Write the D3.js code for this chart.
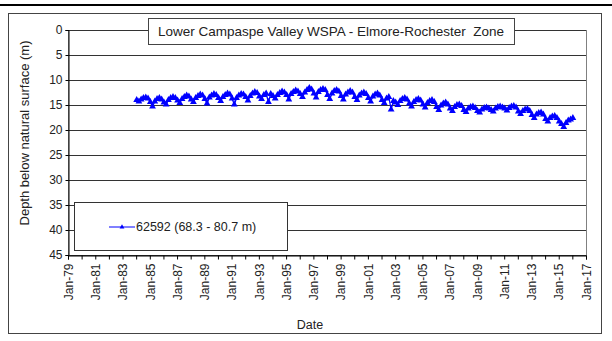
<!DOCTYPE html>
<html>
<head>
<meta charset="utf-8">
<script src="https://cdn.jsdelivr.net/npm/d3@7"></script>
<style>
  body { margin: 0; background: #fff; }
  svg { display: block; font-family: "Liberation Sans", Arial, sans-serif; }
</style>
</head>
<body>
<svg id="chart" width="612" height="341"></svg>
<script>
// Bore 62592, depth to water (m below natural surface), sampled every two months
const years = d3.range(1984, 2017);
const sampleMonths = [0, 2, 4, 6, 8, 10];   // Jan, Mar, May, Jul, Sep, Nov
const depthByYear = [
    [14.0, 14.3, 13.9, 13.6, 13.5, 13.7],
    [14.4, 15.3, 14.3, 13.8, 13.6, 13.9],
    [14.5, 14.9, 14.0, 13.6, 13.4, 13.6],
    [14.1, 14.6, 13.8, 13.4, 13.1, 13.3],
    [13.9, 14.4, 13.6, 13.2, 12.9, 13.1],
    [13.8, 14.7, 13.5, 13.1, 12.8, 13.0],
    [13.6, 14.2, 13.4, 13.0, 12.7, 12.9],
    [13.7, 14.9, 13.6, 13.1, 12.8, 12.9],
    [13.4, 14.1, 13.2, 12.7, 12.4, 12.6],
    [13.3, 13.8, 13.0, 12.7, 14.4, 12.8],
    [13.2, 13.7, 13.0, 12.6, 12.3, 12.5],
    [13.0, 13.9, 12.8, 12.4, 12.1, 12.3],
    [12.8, 13.4, 12.5, 12.0, 11.6, 11.9],
    [12.7, 13.5, 12.4, 12.0, 11.8, 12.0],
    [13.0, 13.8, 12.7, 12.2, 12.0, 12.3],
    [13.2, 13.9, 12.9, 12.5, 12.2, 12.5],
    [13.4, 14.0, 13.1, 12.7, 12.5, 12.8],
    [13.6, 14.3, 13.3, 12.9, 12.7, 13.1],
    [14.0, 14.6, 13.7, 13.4, 15.9, 14.2],
    [14.5, 15.0, 14.2, 13.8, 13.6, 13.9],
    [14.7, 15.3, 14.4, 14.0, 13.8, 14.1],
    [14.9, 15.5, 14.6, 14.2, 14.0, 14.4],
    [15.4, 16.0, 15.1, 14.7, 14.5, 14.9],
    [15.7, 16.2, 15.4, 15.0, 14.9, 15.2],
    [16.0, 16.4, 15.7, 15.4, 15.3, 15.6],
    [16.2, 16.5, 15.9, 15.6, 15.5, 15.7],
    [16.0, 16.3, 15.7, 15.4, 15.3, 15.5],
    [15.7, 16.1, 15.6, 15.3, 15.2, 15.5],
    [16.3, 16.8, 16.2, 15.9, 15.8, 16.2],
    [17.0, 17.6, 16.9, 16.6, 16.5, 16.9],
    [17.8, 18.3, 17.6, 17.3, 17.2, 17.6],
    [18.3, 18.8, 19.4, 18.6, 18.1, 17.9],
    [17.6]
];
const depthTicks = [0, 5, 10, 15, 20, 25, 30, 35, 40, 45];
const chartTitle = "Lower Campaspe Valley WSPA - Elmore-Rochester  Zone";
const seriesName = "62592 (68.3 - 80.7 m)";
const colour = "#0000ff";

// flatten the table into dated readings
let readings = [];
depthByYear.forEach(function(row, i) {
    row.forEach(function(v, j) {
        readings.push({ date: new Date(years[i], sampleMonths[j], 15), depth: v });
    });
});

const svg = d3.select('#chart');
const plot = { left: 68, right: 586, top: 30, bottom: 255 };

// top rule and chart frame
svg.append('rect').attr('x', 0).attr('y', 4).attr('width', 612).attr('height', 2).attr('fill', '#000');
svg.append('rect')
    .attr('x', 8.5).attr('y', 13.5).attr('width', 593).attr('height', 320)
    .attr('fill', 'none').attr('stroke', '#444');

const x = d3.scaleTime()
    .domain([new Date(1979, 0, 1), new Date(2017, 0, 1)])
    .range([plot.left, plot.right]);
const y = d3.scaleLinear()
    .domain([0, 45])
    .range([plot.top, plot.bottom]);

// plot area border
svg.append('rect')
    .attr('x', plot.left + 0.5).attr('y', plot.top + 0.5)
    .attr('width', plot.right - plot.left).attr('height', plot.bottom - plot.top)
    .attr('fill', 'none').attr('stroke', '#808080');

// horizontal gridlines
svg.append('g').selectAll('line')
    .data(depthTicks)
    .join('line')
    .attr('x1', plot.left).attr('x2', plot.right)
    .attr('y1', d => Math.round(y(d)) + 0.5).attr('y2', d => Math.round(y(d)) + 0.5)
    .attr('stroke', '#333');

// y axis
const yAxis = svg.append('g')
    .attr('transform', `translate(${plot.left + 0.5},0)`)
    .call(d3.axisLeft(y).tickValues(depthTicks).tickSize(3).tickPadding(3));
yAxis.select('.domain').attr('stroke', '#000');
yAxis.selectAll('text').attr('font-size', 12).attr('fill', '#222').attr('font-family', null);

// x axis: a tick every year, a label every second year
const xAxis = svg.append('g')
    .attr('transform', `translate(0,${plot.bottom + 0.5})`)
    .call(d3.axisBottom(x)
        .ticks(d3.timeYear.every(1))
        .tickSize(4)
        .tickFormat(d => (d.getFullYear() - 1979) % 2 === 0 ? d3.timeFormat('%b-%y')(d) : ''));
xAxis.select('.domain').attr('stroke', '#000');
xAxis.selectAll('text')
    .attr('font-size', 12).attr('fill', '#222').attr('font-family', null)
    .attr('text-anchor', 'end')
    .attr('transform', 'rotate(-90)')
    .attr('x', -8).attr('y', 0).attr('dy', '0.35em');

// title box
svg.append('rect')
    .attr('x', 148.5).attr('y', 18.5).attr('width', 366).attr('height', 26)
    .attr('fill', '#fff').attr('stroke', '#444');
svg.append('text')
    .attr('x', 331).attr('y', 36).attr('text-anchor', 'middle')
    .attr('font-size', 13.5).attr('fill', '#222')
    .style('white-space', 'pre')
    .text(chartTitle);

// series line and triangle markers
svg.append('path')
    .datum(readings)
    .attr('fill', 'none').attr('stroke', colour).attr('stroke-width', 1.3)
    .attr('d', d3.line().x(d => x(d.date)).y(d => y(d.depth)));
const tri = d3.symbol().type(d3.symbolTriangle).size(20);
svg.append('g').selectAll('path')
    .data(readings)
    .join('path')
    .attr('transform', d => `translate(${x(d.date)},${y(d.depth)})`)
    .attr('d', tri)
    .attr('fill', colour);

// legend
svg.append('rect')
    .attr('x', 74.5).attr('y', 202.5).attr('width', 213).attr('height', 48)
    .attr('fill', '#fff').attr('stroke', '#333');
svg.append('line')
    .attr('x1', 109).attr('x2', 135).attr('y1', 227).attr('y2', 227)
    .attr('stroke', colour);
svg.append('path')
    .attr('transform', 'translate(122,227)')
    .attr('d', d3.symbol().type(d3.symbolTriangle).size(10))
    .attr('fill', colour);
svg.append('text')
    .attr('x', 136).attr('y', 231)
    .attr('font-size', 12.5).attr('fill', '#222')
    .text(seriesName);

// axis titles
svg.append('text')
    .attr('transform', 'translate(29,133) rotate(-90)')
    .attr('text-anchor', 'middle')
    .attr('font-size', 13).attr('fill', '#222')
    .text('Depth below natural surface (m)');
svg.append('text')
    .attr('x', 310).attr('y', 329).attr('text-anchor', 'middle')
    .attr('font-size', 12.5).attr('fill', '#222')
    .text('Date');
</script>
</body>
</html>
